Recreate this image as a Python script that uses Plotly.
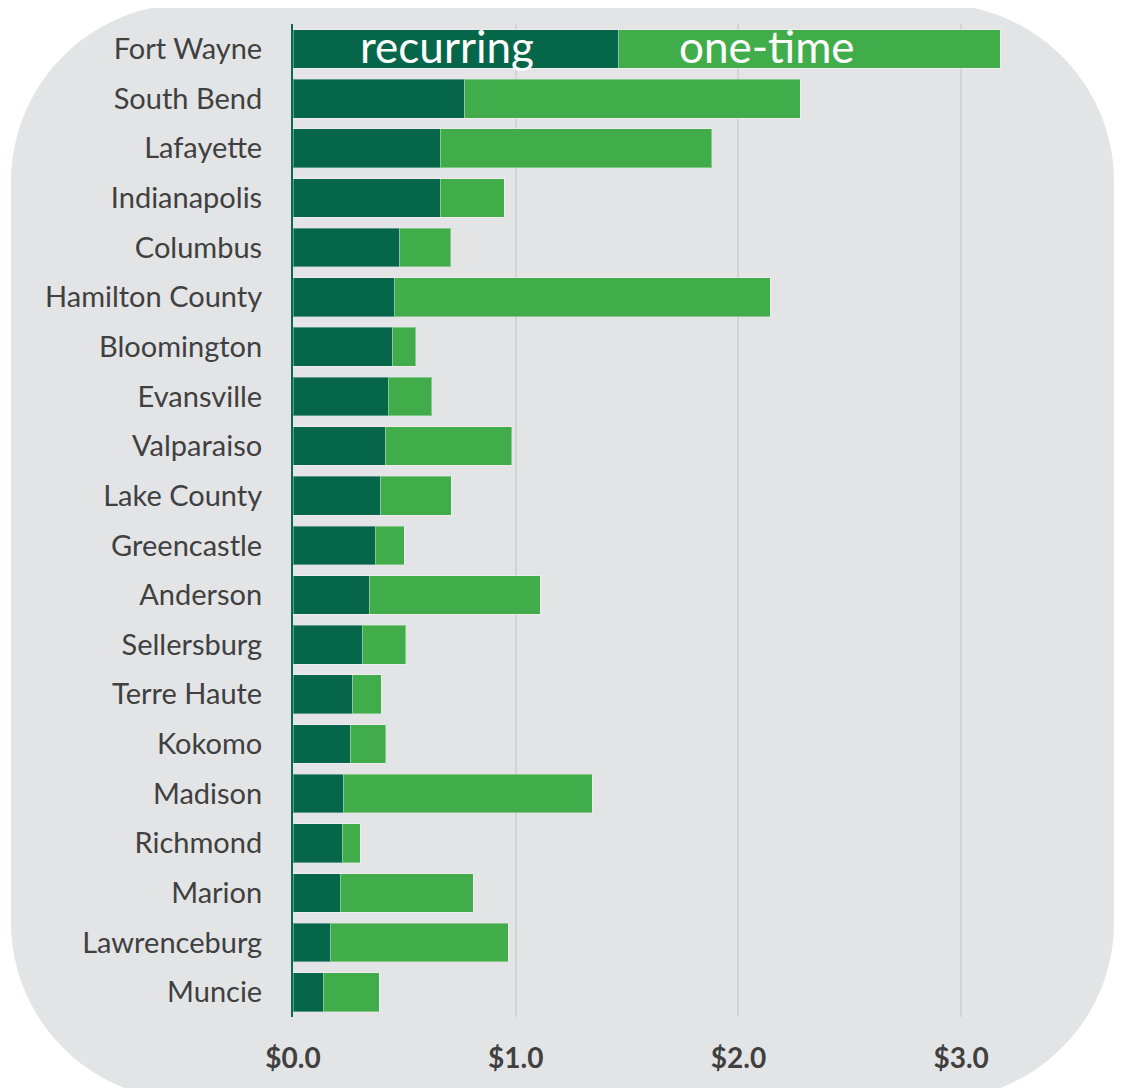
import plotly.graph_objects as go

# Data (millions of dollars)
cities = ["Fort Wayne", "South Bend", "Lafayette", "Indianapolis", "Columbus",
          "Hamilton County", "Bloomington", "Evansville", "Valparaiso", "Lake County",
          "Greencastle", "Anderson", "Sellersburg", "Terre Haute", "Kokomo",
          "Madison", "Richmond", "Marion", "Lawrenceburg", "Muncie"]
recurring = [1.46, 0.77, 0.66, 0.66, 0.48, 0.455, 0.448, 0.428, 0.415, 0.395,
             0.37, 0.343, 0.311, 0.268, 0.259, 0.228, 0.221, 0.212, 0.168, 0.136]
totals = [3.175, 2.277, 1.88, 0.949, 0.708, 2.143, 0.552, 0.624, 0.982, 0.711,
          0.50, 1.109, 0.507, 0.397, 0.416, 1.344, 0.301, 0.81, 0.967, 0.388]
one_time = [round(t - r, 3) for t, r in zip(totals, recurring)]
tick_vals = [0, 1, 2, 3]
tick_text = ["$0.0", "$1.0", "$2.0", "$3.0"]

DARK = "#06664a"
LIGHT = "#41ad4a"
BG = "#e3e4e6"
TXT = "#404040"

# page body adds an 8px margin, so the figure is 8px smaller and shifted
OFF = 8
W, H = 1125 - OFF, 1088 - OFF
ML, MR, MT, MB = 293 - OFF, 97, 24 - OFF, 71
X_MAX = 3.3


# screenshot pixel -> paper coordinates, used for the rounded background panel
def px(x):
    return (x - OFF - ML) / (W - ML - MR)


def py(y):
    return (H - MB - (y - OFF)) / (H - MT - MB)


def rounded_rect(x0, y0, x1, y1, r):
    k = 0.5523 * r
    pts = [
        f"M {px(x0 + r)},{py(y0)}",
        f"L {px(x1 - r)},{py(y0)}",
        f"C {px(x1 - r + k)},{py(y0)} {px(x1)},{py(y0 + r - k)} {px(x1)},{py(y0 + r)}",
        f"L {px(x1)},{py(y1 - r)}",
        f"C {px(x1)},{py(y1 - r + k)} {px(x1 - r + k)},{py(y1)} {px(x1 - r)},{py(y1)}",
        f"L {px(x0 + r)},{py(y1)}",
        f"C {px(x0 + r - k)},{py(y1)} {px(x0)},{py(y1 - r + k)} {px(x0)},{py(y1 - r)}",
        f"L {px(x0)},{py(y0 + r)}",
        f"C {px(x0)},{py(y0 + r - k)} {px(x0 + r - k)},{py(y0)} {px(x0 + r)},{py(y0)}",
        "Z",
    ]
    return " ".join(pts)


fig = go.Figure()
fig.add_trace(go.Bar(
    y=cities, x=recurring, orientation="h", name="recurring",
    marker=dict(color=DARK, line=dict(color="rgba(255,255,255,0.35)", width=1)),
))
fig.add_trace(go.Bar(
    y=cities, x=one_time, orientation="h", name="one-time",
    marker=dict(color=LIGHT, line=dict(color="rgba(255,255,255,0.35)", width=1)),
))

fig.add_shape(type="path", xref="paper", yref="paper", layer="below",
              path=rounded_rect(11, 4, 1114, 1100, 178),
              fillcolor=BG, line=dict(width=0))

# in-bar labels on the first row
fig.add_annotation(x=0.69, y="Fort Wayne", text="recurring", showarrow=False, yshift=3,
                   font=dict(family="Lato", size=44, color="white"))
fig.add_annotation(x=2.13, y="Fort Wayne", text="one-time", showarrow=False, yshift=3,
                   font=dict(family="Lato", size=44, color="white"))

fig.update_layout(
    width=W, height=H,
    barmode="stack", bargap=0.22,
    showlegend=False,
    paper_bgcolor="white", plot_bgcolor="rgba(0,0,0,0)",
    margin=dict(l=ML, r=MR, t=MT, b=MB, pad=0),
    font=dict(family="Lato", color=TXT),
    xaxis=dict(
        range=[0, X_MAX], tickvals=tick_vals, ticktext=tick_text,
        showgrid=True, gridcolor="#d2d3d5", gridwidth=1.5,
        zeroline=False, showline=False,
        tickfont=dict(family="Lato", size=28, color=TXT, weight="bold"),
        ticklabelstandoff=22,
    ),
    yaxis=dict(
        categoryorder="array", categoryarray=cities, autorange="reversed",
        showgrid=False, zeroline=False,
        showline=True, linecolor="#0b6b4a", linewidth=2,
        tickfont=dict(family="Lato", size=29, color=TXT),
        ticklabelstandoff=23,
    ),
)

fig.write_html("out.html")
